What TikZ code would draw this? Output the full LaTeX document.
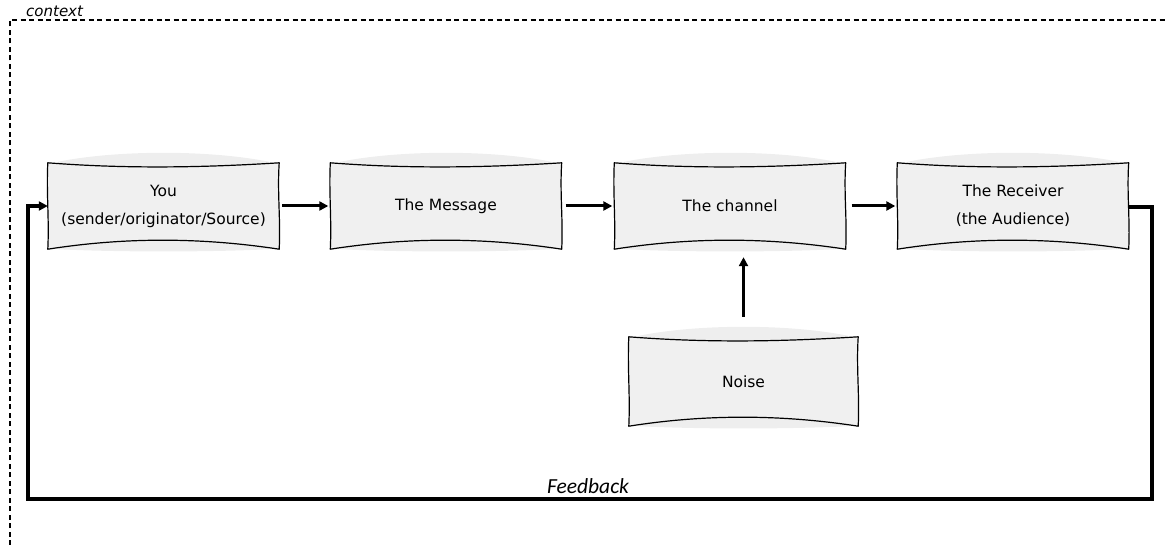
\documentclass[tikz,border=0pt]{standalone}
\usepackage{fontspec}
\usetikzlibrary{calc,arrows.meta}
\newfontfamily\hand{DejaVu Sans}
\newfontfamily\fb{Carlito}
\definecolor{boxfill}{HTML}{F0F0F0}
\definecolor{halo}{HTML}{EEEEEE}
\tikzset{
  wbox/.style={minimum width=231pt,minimum height=86pt,inner sep=0pt,align=center,
    font=\hand\fontsize{15.5}{28}\selectfont},
  flow/.style={line width=3pt,-{Triangle[length=9pt,width=9pt]}},
  ctx/.style={line width=1.1pt,dash pattern=on 5pt off 3.5pt},
}
\newcommand\wavy[1]{%
  \fill[halo] ($(#1.north west)+(10,-1)$) .. controls ($(#1.north west)!0.3!(#1.north east)+(0,-13)$) and ($(#1.north west)!0.7!(#1.north east)+(0,-13)$) .. ($(#1.north east)+(-10,-1)$) -- ($(#1.south east)+(-10,0)$) .. controls ($(#1.south west)!0.7!(#1.south east)+(0,3)$) and ($(#1.south west)!0.3!(#1.south east)+(0,3)$) .. ($(#1.south west)+(10,0)$) -- cycle;
  \filldraw[fill=boxfill,draw=black,line width=1.2pt,line join=round]
    (#1.north west) .. controls ($(#1.north west)!0.33!(#1.north east)+(0,6)$) and ($(#1.north west)!0.66!(#1.north east)+(0,5)$) .. (#1.north east)
    .. controls ($(#1.north east)!0.35!(#1.south east)+(-2,0)$) and ($(#1.north east)!0.65!(#1.south east)+(1.5,0)$) .. (#1.south east)
    .. controls ($(#1.south west)!0.66!(#1.south east)+(0,-12)$) and ($(#1.south west)!0.33!(#1.south east)+(0,-12)$) .. (#1.south west)
    .. controls ($(#1.south west)!0.35!(#1.north west)+(1.5,0)$) and ($(#1.south west)!0.65!(#1.north west)+(-1.5,0)$) .. cycle;
}
\begin{document}
\begin{tikzpicture}[x=1pt,y=-1pt]
\useasboundingbox (0,0) rectangle (1166,545);
% context frame
\draw[ctx] (10,545) -- (10,20) -- (1166,20);
\node[anchor=base west,font=\hand\itshape\fontsize{15}{16}\selectfont,inner sep=0pt] (ctxlabel) at (26,17) {context};
% node placement (invisible shapes)
\node[wbox] (you) at (163.5,206) {};
\node[wbox] (msg) at (446,206) {};
\node[wbox] (chan) at (730,206) {};
\node[wbox] (recv) at (1013,206) {};
\node[wbox,minimum height=89pt,minimum width=229pt] (noise) at (743.5,381.5) {};
\wavy{you}\wavy{msg}\wavy{chan}\wavy{recv}\wavy{noise}
\node[wbox] at (you) {You\\(sender/originator/Source)};
\node[wbox] at (msg) {The Message};
\node[wbox] at (chan) {The channel};
\node[wbox] at (recv) {The Receiver\\(the Audience)};
\node[wbox] at (noise) {Noise};
% arrows
\draw[flow,shorten <=3pt,shorten >=2pt] (you.east) -- (msg.west);
\draw[flow,shorten <=4pt,shorten >=2pt] (msg.east) -- (chan.west);
\draw[flow,shorten <=6pt,shorten >=2pt] (chan.east) -- (recv.west);
\draw[flow,shorten <=20pt,shorten >=8pt] (noise.north) -- (noise.north |- chan.south);
% feedback loop
\coordinate (fr) at (1152,499);
\coordinate (fl) at (28,499);
\draw[line width=3.5pt,-{Triangle[length=9pt,width=9pt]},line join=miter]
  ($(recv.east)+(0,1)$) -| (fr) -- (fl) |- (you.west);
\node[anchor=base,font=\fb\itshape\fontsize{21.5}{24}\selectfont,inner sep=0pt] (fbl) at (588,493) {Feedback};
\end{tikzpicture}
\end{document}
